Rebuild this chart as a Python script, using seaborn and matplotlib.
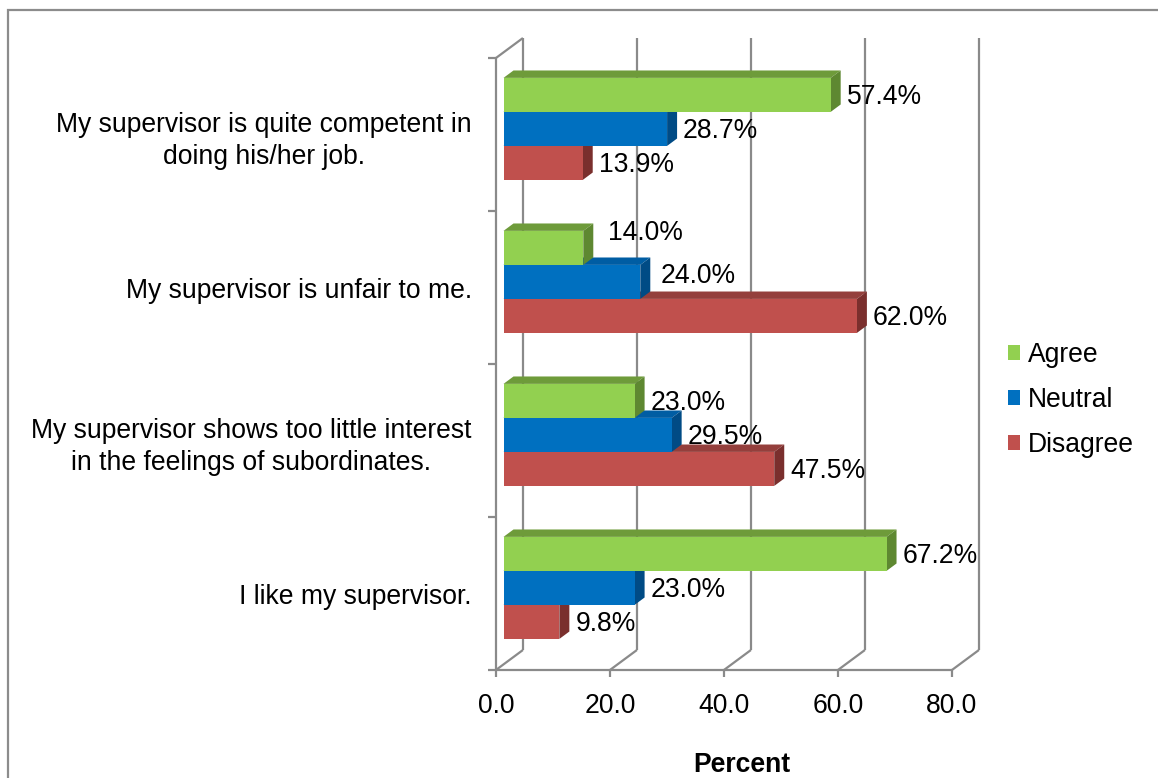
import numpy as np
import pandas as pd
import matplotlib
matplotlib.use("Agg")
import matplotlib.pyplot as plt
import matplotlib.transforms as mtransforms
from matplotlib.patches import Polygon, Rectangle
import seaborn as sns

# ---- data ---------------------------------------------------------------
questions = [
    "My supervisor is quite competent in\ndoing his/her job.",
    "My supervisor is unfair to me.",
    "My supervisor shows too little interest\nin the feelings of subordinates.",
    "I like my supervisor.",
]
responses = ["Agree", "Neutral", "Disagree"]
agree = [57.4, 14.0, 23.0, 67.2]
neutral = [28.7, 24.0, 29.5, 23.0]
disagree = [13.9, 62.0, 47.5, 9.8]
x_ticks = [0, 20, 40, 60, 80]
x_tick_labels = ["0.0", "20.0", "40.0", "60.0", "80.0"]
axis_title = "Percent"

# ---- styling ------------------------------------------------------------
front_colors = ["#92D050", "#0070C0", "#C0504D"]
top_colors = ["#6E9B3A", "#005DA3", "#943F3C"]
side_colors = ["#5E8831", "#004B85", "#7A2F2D"]
wall_gray = "#8A8A8A"
FS = 19.1

df = pd.DataFrame({
    "question": questions * len(responses),
    "response": np.repeat(responses, len(questions)),
    "percent": agree + neutral + disagree,
})

sns.set_theme(style="white", rc={
    "text.color": "black", "xtick.color": "black", "ytick.color": "black",
    "axes.labelcolor": "black",
})
plt.rcParams["font.family"] = ["Liberation Sans", "DejaVu Sans"]

W, H, DPI = 1158, 778, 100
fig = plt.figure(figsize=(W / DPI, H / DPI), dpi=DPI)
fig.patch.set_facecolor("white")

# plotting plane = plane of the bars' front faces (pixels)
left_px, right_px, top_px, bottom_px = 503.5, 959.5, 52.4, 664.4
ax = fig.add_axes([left_px / W, 1 - bottom_px / H,
                   (right_px - left_px) / W, (bottom_px - top_px) / H])

sns.barplot(data=df, y="question", x="percent", hue="response",
            order=questions, hue_order=responses, palette=front_colors,
            saturation=1, width=0.667, orient="h", errorbar=None,
            linewidth=0, zorder=3, ax=ax)

ax.set_xlim(0, 80)
ax.set_ylim(3.5, -0.5)
for s in ax.spines.values():
    s.set_visible(False)
ax.grid(False)

# pixels per data unit
p0 = ax.transData.transform((0, 0))
p1 = ax.transData.transform((1, 1))
sx = p1[0] - p0[0]
sy = p0[1] - p1[1]

# 3-D box: depth runs 27 px right and 20 px up from front wall to back wall
DEPTH = (27.0, 20.0)
BAR_T0, BAR_T1 = 0.28, 0.65


def at(x, y, t):
    """Data position of (x, y) pushed to depth t (0 = front, 1 = back)."""
    return (x + (t - BAR_T0) * DEPTH[0] / sx,
            y - (t - BAR_T0) * DEPTH[1] / sy)


line_kw = dict(color=wall_gray, lw=1.6, clip_on=False, zorder=1,
               solid_capstyle="butt")
y_floor, y_top = 3.5, -0.5
for xv in x_ticks:
    a, b = at(xv, y_floor, 0), at(xv, y_floor, 1)
    ax.plot([a[0], b[0]], [a[1], b[1]], **line_kw)
    c = at(xv, y_top, 1)
    ax.plot([b[0], c[0]], [b[1], c[1]], **line_kw)
    ax.plot([a[0], a[0]], [a[1], a[1] + 7 / sy], **line_kw)
a, b = at(0, y_floor, 0), at(80, y_floor, 0)
ax.plot([a[0], b[0]], [a[1], b[1]], **line_kw)
c = at(0, y_top, 0)
ax.plot([a[0], c[0]], [a[1], c[1]], **line_kw)
d = at(0, y_top, 1)
ax.plot([c[0], d[0]], [c[1], d[1]], **line_kw)
for yv in np.arange(-0.5, 4.0, 1.0):
    e = at(0, yv, 0)
    ax.plot([e[0] - 8 / sx, e[0]], [e[1], e[1]], **line_kw)

# 3-D top and side faces of each bar, plus value labels
label_nudge = {(0, 1): (9, 17), (1, 1): (4, 8)}
for i, cont in enumerate(ax.containers):
    for j, bar in enumerate(cont):
        x0, y0 = bar.get_x(), bar.get_y()
        w, h = bar.get_width(), bar.get_height()
        x1, y1 = x0 + w, y0 + h
        top = [at(x0, y0, BAR_T0), at(x1, y0, BAR_T0),
               at(x1, y0, BAR_T1), at(x0, y0, BAR_T1)]
        side = [at(x1, y0, BAR_T0), at(x1, y1, BAR_T0),
                at(x1, y1, BAR_T1), at(x1, y0, BAR_T1)]
        ax.add_patch(Polygon(top, closed=True, facecolor=top_colors[i],
                             edgecolor="none", zorder=1.5, clip_on=False))
        ax.add_patch(Polygon(side, closed=True, facecolor=side_colors[i],
                             edgecolor="none", zorder=2, clip_on=False))
        nx, ny = label_nudge.get((i, j), (0, 0))
        ax.annotate(f"{w:.1f}%", xy=(x1, (y0 + y1) / 2),
                    xytext=(16 + nx, -9.5 + ny), textcoords="offset pixels",
                    ha="left", va="baseline", fontsize=FS, zorder=4,
                    annotation_clip=False)

# axis ticks and labels, moved onto the front wall plane
ax.set_xticks(x_ticks, x_tick_labels)
ax.tick_params(axis="x", length=0, pad=16.5, labelsize=FS)
ax.tick_params(axis="y", length=0, pad=17.5, labelsize=FS)
front_shift = mtransforms.ScaledTranslation(-BAR_T0 * DEPTH[0] / DPI,
                                            -BAR_T0 * DEPTH[1] / DPI,
                                            fig.dpi_scale_trans)
for lbl in ax.get_xticklabels():
    lbl.set_transform(lbl.get_transform() + front_shift)
for lbl in ax.get_yticklabels():
    lbl.set_multialignment("center")
    lbl.set_linespacing(1.3)
    lbl.set_transform(lbl.get_transform() + front_shift)

ax.set_ylabel("")
ax.set_xlabel(axis_title, fontsize=FS, fontweight="bold")
ax.xaxis.set_label_coords(0.523, -0.143)

# legend
old = ax.get_legend()
handles = old.legend_handles
labels = [t.get_text() for t in old.get_texts()]
old.remove()
ax.legend(handles, labels, loc="center left",
          bbox_to_anchor=(1008 / W, 1 - 400 / H), bbox_transform=fig.transFigure,
          frameon=False, fontsize=FS, handlelength=0.46, handleheight=0.46,
          handletextpad=0.3, labelspacing=0.72, borderpad=0, borderaxespad=0)

# chart-area border
fig.add_artist(Rectangle((8 / W, -0.1), 1.2, 1 - 10 / H + 0.1,
                         transform=fig.transFigure, fill=False,
                         edgecolor="#8C8C8C", lw=1.6))

fig.savefig("out.png", dpi=DPI, facecolor="white")
